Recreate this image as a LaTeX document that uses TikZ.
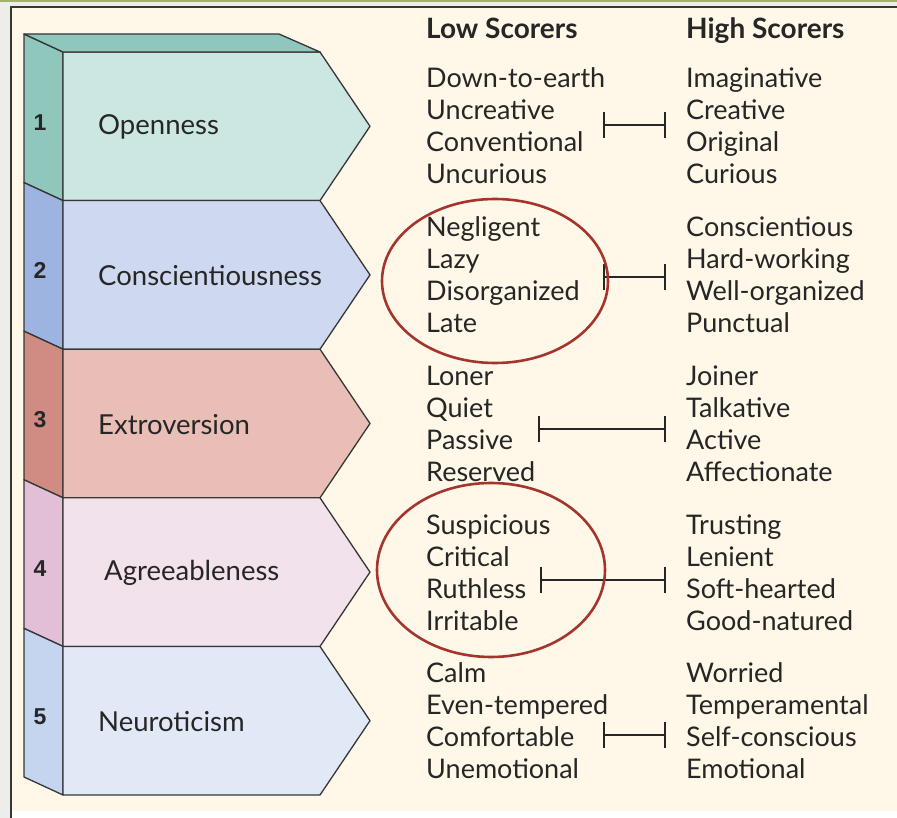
\documentclass[tikz,border=0pt]{standalone}
\usepackage{fontspec}
\setmainfont{Lato}
\newfontfamily\numfont{Liberation Sans Bold}
\usetikzlibrary{arrows.meta}

\definecolor{bggray}{HTML}{EDEDEC}
\definecolor{topline}{HTML}{A2B26A}
\definecolor{panel}{HTML}{FFF8E8}
\definecolor{inkgray}{HTML}{262626}
\definecolor{edgegray}{HTML}{363636}
\definecolor{ringred}{HTML}{A3352D}
\definecolor{openF}{HTML}{CCE6E1}
\definecolor{openS}{HTML}{8FC7BD}
\definecolor{consF}{HTML}{CED9F1}
\definecolor{consS}{HTML}{9DB3E0}
\definecolor{extrF}{HTML}{E8BEB6}
\definecolor{extrS}{HTML}{D08C82}
\definecolor{agreF}{HTML}{F2E2EC}
\definecolor{agreS}{HTML}{E3BFD7}
\definecolor{neurF}{HTML}{E2E9F6}
\definecolor{neurS}{HTML}{C5D4EF}

\begin{document}
\begin{tikzpicture}[x=1pt, y=-1pt,
	every node/.style={color=inkgray, inner sep=0pt},
	face/.style={draw=edgegray, line width=1.3pt, line join=round},
	numlabel/.style={font=\numfont\fontsize{23}{26}\selectfont},
	boxlabel/.style={font=\fontsize{27.5}{32}\selectfont, anchor=west},
	word/.style={font=\fontsize{27}{32}\selectfont, anchor=base west},
	head/.style={font=\bfseries\fontsize{28}{32}\selectfont, anchor=base west},
	scorebar/.style={draw=inkgray, line width=2.2pt, {Bar[width=26pt]}-{Bar[width=26pt]}},
	ring/.style={draw=ringred, line width=2.6pt}]

	\useasboundingbox (0,0) rectangle (897,818);

	% 背景
	\fill[bggray] (0,0) rectangle (897,818);
	\fill[topline] (0,0) rectangle (897,2.5);
	\fill[panel] (11,7) rectangle (897,811);
	\fill[white] (11,811) rectangle (897,818);
	\draw[edgegray, line width=1.2pt] (897,7) -- (11,7) -- (11,818);

	% 五个色块(侧面 + 正面)
	\foreach \g/\front/\side/\name/\nx in {1/openF/openS/Openness/98, 2/consF/consS/Conscientiousness/98, 3/extrF/extrS/Extroversion/98, 4/agreF/agreS/Agreeableness/104, 5/neurF/neurS/Neuroticism/98} {
			\pgfmathsetmacro{\yt}{52+148.6*(\g-1)}
			\pgfmathsetmacro{\yb}{\yt+148.6}
			\pgfmathsetmacro{\ym}{\yt+74.3}
			\filldraw[face, fill=\side] (24,\yt-18) -- (63,\yt) -- (63,\yb) -- (24,\yb-18) -- cycle;
			\filldraw[face, fill=\front] (63,\yt) -- (320,\yt) -- (370,\ym) -- (320,\yb) -- (63,\yb) -- cycle;
			\node[numlabel] (num\g) at (40,\ym-4) {\g};
			\node[boxlabel] (box\g) at (\nx,\ym+1) {\name};
		}
	% 顶面
	\filldraw[face, fill=openS] (24,34) -- (279,34) -- (320,52) -- (63,52) -- cycle;

	% 表头
	\node[head] (lowhead) at (426,39) {Low Scorers};
	\node[head] (highhead) at (686,39) {High Scorers};

	% 低分与高分特征
	\foreach \g/\lows/\highs in {
			1/{Down-to-earth,Uncreative,Conventional,Uncurious}/{Imaginative,Creative,Original,Curious},
			2/{Negligent,Lazy,Disorganized,Late}/{Conscientious,Hard-working,Well-organized,Punctual},
			3/{Loner,Quiet,Passive,Reserved}/{Joiner,Talkative,Active,Affectionate},
			4/{Suspicious,Critical,Ruthless,Irritable}/{Trusting,Lenient,Soft-hearted,Good-natured},
			5/{Calm,Even-tempered,Comfortable,Unemotional}/{Worried,Temperamental,Self-conscious,Emotional}} {
			\pgfmathsetmacro{\ytop}{88+148.7*(\g-1)}
			\foreach \w [count=\k] in \lows {
					\pgfmathsetmacro{\yw}{\ytop+32*(\k-1)}
					\node[word] (low\g-\k) at (426,\yw) {\w};
				}
			\foreach \w [count=\k] in \highs {
					\pgfmathsetmacro{\yw}{\ytop+32*(\k-1)}
					\node[word] (high\g-\k) at (686,\yw) {\w};
				}
		}

	% 连线
	\foreach \g/\yy/\xl in {1/125/603, 2/277/603, 3/429/538, 4/580/540, 5/735/603} {
			\coordinate (barL\g) at (\xl,\yy);
			\coordinate (barR\g) at (666,\yy);
			\draw[scorebar] (barL\g) -- (barR\g);
		}

	% 红圈
	\draw[ring] (495,281) ellipse [x radius=113, y radius=82];
	\draw[ring] (491,570) ellipse [x radius=114, y radius=87];

\end{tikzpicture}
\end{document}
